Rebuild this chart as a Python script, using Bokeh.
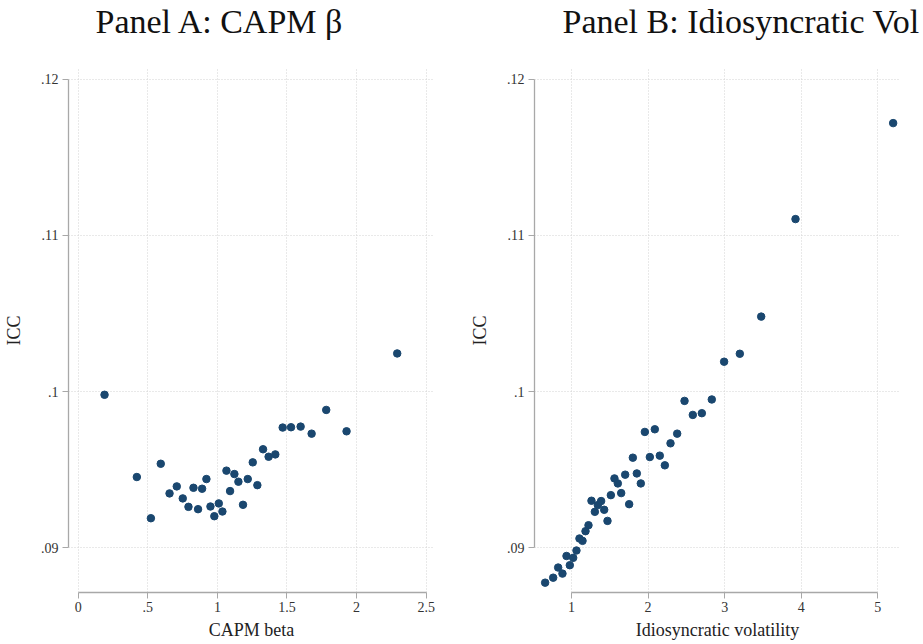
from bokeh.plotting import figure
from bokeh.layouts import row
from bokeh.models import Range1d, FixedTicker, Title
from bokeh.embed import file_html
from bokeh.resources import INLINE

# ---------------- data ----------------
beta_x = [0.189, 0.421, 0.522, 0.593, 0.656, 0.708, 0.751, 0.792, 0.828, 0.861,
          0.890, 0.921, 0.950, 0.978, 1.010, 1.036, 1.065, 1.091, 1.122, 1.151,
          1.184, 1.218, 1.254, 1.287, 1.328, 1.368, 1.416, 1.469, 1.529, 1.598,
          1.677, 1.782, 1.928, 2.292]
beta_icc = [0.09979, 0.09452, 0.09188, 0.09537, 0.09347, 0.09392, 0.09315, 0.09261, 0.09383, 0.09246,
            0.09377, 0.09439, 0.09263, 0.09201, 0.09283, 0.09231, 0.09493, 0.09362, 0.09471, 0.09422,
            0.09274, 0.09439, 0.09546, 0.09400, 0.09630, 0.09582, 0.09597, 0.09769, 0.09771, 0.09775,
            0.09730, 0.09882, 0.09745, 0.10244]

ivol_x = [0.656, 0.761, 0.826, 0.882, 0.935, 0.978, 1.022, 1.065, 1.104, 1.144,
          1.183, 1.222, 1.261, 1.305, 1.344, 1.387, 1.427, 1.470, 1.514, 1.561,
          1.605, 1.649, 1.701, 1.753, 1.801, 1.853, 1.905, 1.958, 2.023, 2.088,
          2.153, 2.219, 2.293, 2.380, 2.476, 2.584, 2.702, 2.832, 2.993, 3.198,
          3.477, 3.925, 5.200]
ivol_icc = [0.08775, 0.08807, 0.08872, 0.08833, 0.08946, 0.08887, 0.08934, 0.08981, 0.09058, 0.09043,
            0.09105, 0.09143, 0.09300, 0.09229, 0.09272, 0.09298, 0.09242, 0.09171, 0.09336, 0.09443,
            0.09411, 0.09349, 0.09467, 0.09278, 0.09576, 0.09475, 0.09411, 0.09741, 0.09580, 0.09758,
            0.09589, 0.09527, 0.09668, 0.09730, 0.09940, 0.09850, 0.09861, 0.09949, 0.10191, 0.10242,
            0.10480, 0.11105, 0.11720]

beta_ticks = [0, 0.5, 1, 1.5, 2, 2.5]
beta_tick_labels = ["0", ".5", "1", "1.5", "2", "2.5"]
ivol_ticks = [1, 2, 3, 4, 5]
ivol_tick_labels = ["1", "2", "3", "4", "5"]
icc_ticks = [0.09, 0.1, 0.11, 0.12]
icc_tick_labels = [".09", ".1", ".11", ".12"]

panel_titles = ["Panel A: CAPM \u03b2", "Panel B: Idiosyncratic Vol"]
x_titles = ["CAPM beta", "Idiosyncratic volatility"]
y_title = "ICC"

SERIF = "Liberation Serif"
DOT = "#1a476f"


def make_panel(xs, ys, x_range, xticks, xlabels, xtitle, title, width,
               left, right, title_offset):
    p = figure(width=width, height=644, output_backend="svg", toolbar_location=None,
               x_range=Range1d(*x_range), y_range=Range1d(0.08712, 0.1207),
               min_border_left=left, min_border_right=right,
               min_border_top=68, min_border_bottom=52)
    p.outline_line_color = None
    p.background_fill_color = "white"
    p.border_fill_color = "white"

    spacer = Title(text=" ", text_font=SERIF, text_font_size="25px", standoff=0)
    p.add_layout(spacer, "above")
    t = Title(text=title, align="left", offset=title_offset,
              text_font=SERIF, text_font_size="34px", text_font_style="normal",
              text_color="#111111", standoff=0)
    p.add_layout(t, "above")

    p.scatter(xs, ys, size=7.5, color=DOT, line_color=DOT)

    xa = p.xaxis[0]
    xa.ticker = FixedTicker(ticks=xticks)
    xa.major_label_overrides = {t_: l for t_, l in zip(xticks, xlabels)}
    xa.bounds = (xticks[0], xticks[-1])
    xa.axis_label = xtitle

    ya = p.yaxis[0]
    ya.ticker = FixedTicker(ticks=icc_ticks)
    ya.major_label_overrides = {t_: l for t_, l in zip(icc_ticks, icc_tick_labels)}
    ya.bounds = (icc_ticks[0], icc_ticks[-1])
    ya.axis_label = y_title
    ya.major_label_orientation = "horizontal"

    for ax in (xa, ya):
        ax.axis_line_color = "#a8a8a8"
        ax.axis_line_width = 1.3
        ax.major_tick_line_color = "#a8a8a8"
        ax.major_tick_in = 0
        ax.major_tick_out = 6
        ax.minor_tick_line_color = None
        ax.major_label_text_font = SERIF
        ax.major_label_text_font_size = "14px"
        ax.major_label_text_color = "#333333"
        ax.axis_label_text_font = SERIF
        ax.axis_label_text_font_size = "18px"
        ax.axis_label_text_font_style = "normal"
        ax.axis_label_text_color = "#222222"
    xa.major_label_standoff = 3
    xa.axis_label_standoff = 5
    ya.major_label_standoff = 4
    ya.axis_label_standoff = 14

    for g in (p.xgrid[0], p.ygrid[0]):
        g.grid_line_color = "#d2d2d2"
        g.grid_line_dash = "1 2"
        g.grid_line_width = 1
    return p


pa = make_panel(beta_x, beta_icc, (-0.07, 2.56), beta_ticks, beta_tick_labels,
                x_titles[0], panel_titles[0], 460, 67, 26, 27)
pb = make_panel(ivol_x, ivol_icc, (0.517, 5.296), ivol_ticks, ivol_tick_labels,
                x_titles[1], panel_titles[1], 463, 74, 23, 28)

layout = row(pa, pb, spacing=0)
open("out.html", "w").write(file_html(layout, INLINE))
